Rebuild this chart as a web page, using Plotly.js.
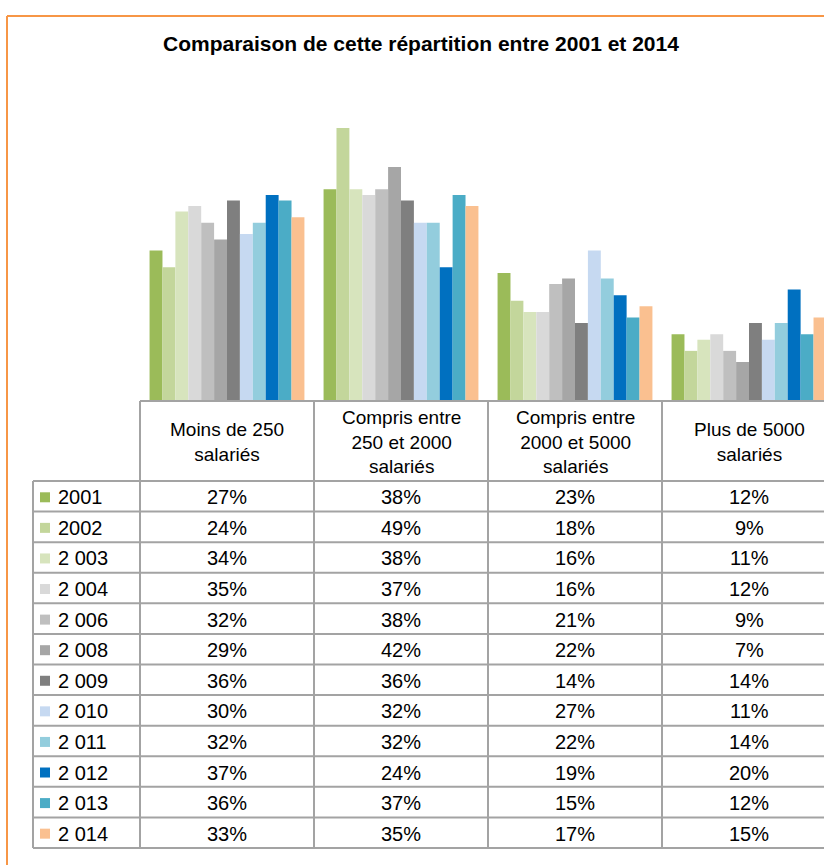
<!DOCTYPE html>
<html>
<head>
<meta charset="utf-8">
<script src="https://cdn.plot.ly/plotly-3.0.1.min.js"></script>
<style>
  html, body { margin: 0; padding: 0; background: #fff; }
  #chart { width: 824px; height: 865px; }
</style>
</head>
<body>
<div id="chart"></div>
<script>
// categories (column headers of the data table)
const categories = ['Moins de 250 salariés', 'Compris entre 250 et 2000 salariés',
    'Compris entre 2000 et 5000 salariés', 'Plus de 5000 salariés'];
const headerLabels = ['Moins de 250<br>salariés', 'Compris entre<br>250 et 2000<br>salariés',
    'Compris entre<br>2000 et 5000<br>salariés', 'Plus de 5000<br>salariés'];

// series (rows of the data table)
const years = ['2001', '2002', '2 003', '2 004', '2 006', '2 008', '2 009',
    '2 010', '2 011', '2 012', '2 013', '2 014'];
const colors = ['#9BBB59', '#C3D69B', '#D7E4BD', '#D9D9D9', '#BFBFBF', '#A6A6A6', '#7F7F7F',
    '#C6D9F1', '#93CDDD', '#0070C0', '#4BACC6', '#FAC090'];

// values in %, one array per category, in the order of years
const moins250 = [27, 24, 34, 35, 32, 29, 36, 30, 32, 37, 36, 33];
const de250a2000 = [38, 49, 38, 37, 38, 42, 36, 32, 32, 24, 37, 35];
const de2000a5000 = [23, 18, 16, 16, 21, 22, 14, 27, 22, 19, 15, 17];
const plus5000 = [12, 9, 11, 12, 9, 7, 14, 11, 14, 20, 12, 15];
const columns = [moins250, de250a2000, de2000a5000, plus5000];

// page geometry (pixels) -> paper coords (margins are 0)
const W = 824, H = 865;
const px = x => x / W;
const py = y => 1 - y / H;

const plotLeft = 140, catWidth = 174, baseY = 401, topY = 71, pxPerPct = 5.57;
const rowTop = 481, rowH = 30.58, legLeft = 33;
const tableBottom = rowTop + rowH * years.length;
const font = 'Liberation Sans, Arial, sans-serif';
const gridColor = '#a3a3a3';

const traces = years.map((yr, i) => ({
    type: 'bar',
    name: yr,
    x: categories,
    y: columns.map(col => col[i]),
    marker: { color: colors[i], line: { width: 0 } },
    hoverinfo: 'skip',
}));

const shapes = [];
const annotations = [];

// orange frame (only left and top edges are in view)
shapes.push({ type: 'line', xref: 'paper', yref: 'paper', x0: px(7), x1: 1, y0: py(16), y1: py(16),
    line: { color: '#F79646', width: 2 } });
shapes.push({ type: 'line', xref: 'paper', yref: 'paper', x0: px(7), x1: px(7), y0: py(16), y1: 0,
    line: { color: '#F79646', width: 2 } });

// table horizontal lines
shapes.push({ type: 'line', xref: 'paper', yref: 'paper', x0: px(plotLeft), x1: 1, y0: py(baseY), y1: py(baseY),
    line: { color: gridColor, width: 2 } });
for (let k = 0; k <= years.length; k++) {
    const y = py(rowTop + k * rowH);
    shapes.push({ type: 'line', xref: 'paper', yref: 'paper', x0: px(legLeft), x1: 1, y0: y, y1: y,
        line: { color: gridColor, width: 2 } });
}
// table vertical lines
shapes.push({ type: 'line', xref: 'paper', yref: 'paper', x0: px(legLeft), x1: px(legLeft),
    y0: py(rowTop), y1: py(tableBottom), line: { color: gridColor, width: 2 } });
shapes.push({ type: 'line', xref: 'paper', yref: 'paper', x0: px(plotLeft), x1: px(plotLeft),
    y0: py(baseY), y1: py(tableBottom), line: { color: gridColor, width: 2 } });
for (let j = 0; j < categories.length - 1; j++) {
    shapes.push({ type: 'line', xref: 'x', yref: 'paper', x0: j + 0.5, x1: j + 0.5,
        y0: py(baseY), y1: py(tableBottom), line: { color: gridColor, width: 2 } });
}

// header cells
headerLabels.forEach((h, j) => {
    annotations.push({ xref: 'x', yref: 'paper', x: j, y: py((baseY + rowTop) / 2 + 1),
        text: h, showarrow: false, align: 'center', xanchor: 'center', yanchor: 'middle',
        font: { family: font, size: 19, color: '#000' } });
});

// rows: legend key, year label, values
years.forEach((yr, i) => {
    const cy = rowTop + rowH * (i + 0.5);
    shapes.push({ type: 'rect', xref: 'paper', yref: 'paper', x0: px(40), x1: px(50),
        y0: py(cy - 4), y1: py(cy + 6), fillcolor: colors[i], line: { width: 0 } });
    annotations.push({ xref: 'paper', yref: 'paper', x: px(56), y: py(cy + 1), text: yr,
        showarrow: false, xanchor: 'left', yanchor: 'middle',
        font: { family: font, size: 20, color: '#000' } });
    columns.forEach((col, j) => {
        annotations.push({ xref: 'x', yref: 'paper', x: j, y: py(cy + 1), text: col[i] + '%',
            showarrow: false, xanchor: 'center', yanchor: 'middle',
            font: { family: font, size: 20, color: '#000' } });
    });
});

// title
annotations.push({ xref: 'paper', yref: 'paper', x: px(421), y: py(44),
    text: '<b>Comparaison de cette répartition entre 2001 et 2014</b>',
    showarrow: false, xanchor: 'center', yanchor: 'middle',
    font: { family: font, size: 21, color: '#000' } });

Plotly.newPlot('chart', traces, {
    width: W,
    height: H,
    margin: { t: 0, r: 0, b: 0, l: 0 },
    paper_bgcolor: '#fff',
    plot_bgcolor: '#fff',
    showlegend: false,
    barmode: 'group',
    bargap: 0.11,
    bargroupgap: 0,
    xaxis: {
        domain: [px(plotLeft), 1],
        range: [-0.5, -0.5 + (W - plotLeft) / catWidth],
        showticklabels: false, showgrid: false, zeroline: false, showline: false, ticks: '',
        fixedrange: true,
    },
    yaxis: {
        domain: [py(baseY), py(topY)],
        range: [0, (baseY - topY) / pxPerPct],
        visible: false, fixedrange: true,
    },
    shapes: shapes,
    annotations: annotations,
}, { displayModeBar: false, staticPlot: true });
</script>
</body>
</html>
